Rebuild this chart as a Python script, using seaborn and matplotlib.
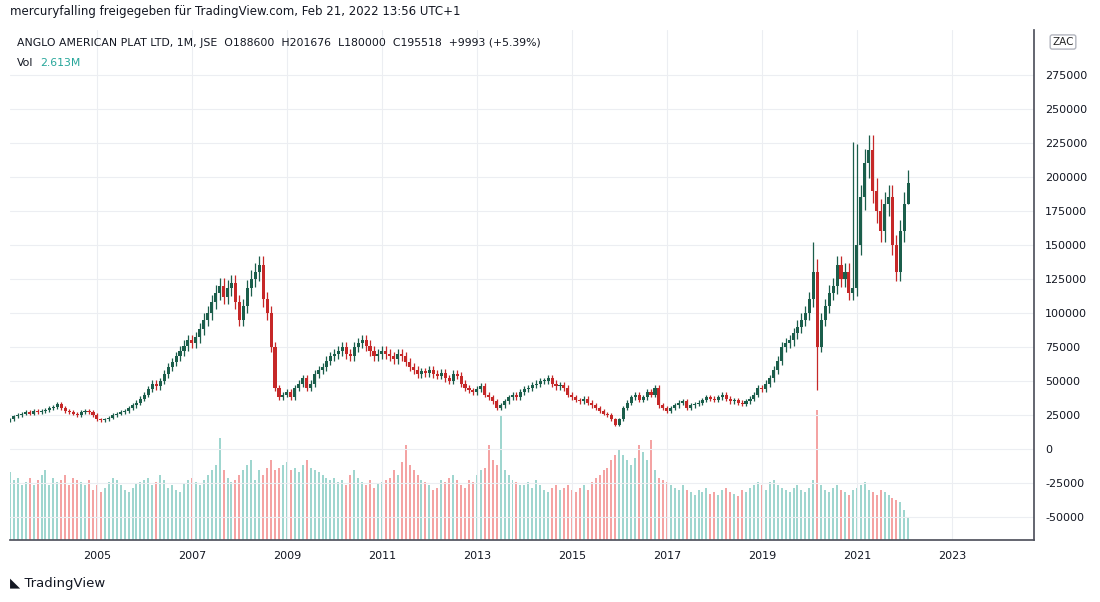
import numpy as np
import matplotlib.pyplot as plt
import seaborn as sns

# monthly closes in thousands ZAC, Mar 2003 .. Feb 2022
close_k = [
    22, 24, 25, 26, 27, 26, 28, 27, 28, 29,
    30, 31, 33, 30, 28, 27, 26, 25, 27, 28, 27, 25,
    22, 21, 22, 23, 25, 26, 27, 28, 30, 32, 34, 37,
    40, 44, 48, 46, 50, 55, 60, 64, 68, 72, 76, 80,
    78, 82, 88, 95, 100, 108, 115, 120, 112, 118, 122, 108,
    95, 105, 118, 125, 130, 135, 110, 100, 75, 45, 38, 40,
    42, 38, 45, 48, 52, 45, 48, 55, 58, 60, 65, 68,
    70, 72, 75, 70, 68, 75, 78, 80, 76, 72, 68, 70,
    72, 70, 68, 66, 70, 68, 64, 60, 58, 55, 57, 56,
    58, 55, 54, 56, 52, 50, 55, 54, 48, 45, 43, 42,
    44, 46, 40, 38, 35, 30, 32, 35, 38, 40, 38, 42,
    44, 45, 47, 48, 50, 50, 52, 48, 46, 47, 45, 40,
    38, 36, 35, 37, 34, 32, 30, 28, 26, 25, 22, 18,
    22, 30, 34, 38, 40, 36, 38, 42, 40, 45, 32, 30,
    28, 30, 32, 34, 35, 30, 32, 33, 34, 36, 38, 37,
    36, 38, 40, 37, 35, 36, 34, 33, 35, 37, 40, 45,
    44, 48, 52, 58, 65, 75, 78, 80, 85, 90, 95, 100,
    110, 130, 75, 95, 105, 115, 120, 135, 125, 130, 115, 118,
    150, 185, 210, 220, 190, 175, 160, 180, 185, 150, 130, 160,
    180, 195.5,
]
# wick extremes that stand out from the body (index: value in thousands)
high_spikes = {203: 152, 204: 140, 213: 226, 214: 224}
low_spikes = {204: 43, 227: 180}

volume = [
    68, 60, 62, 55, 58, 62, 55, 60, 65, 70,
    55, 62, 58, 60, 65, 55, 62, 60, 58, 55, 60, 50,
    55, 48, 52, 58, 62, 60, 55, 50, 48, 52, 56, 58,
    60, 62, 55, 58, 65, 60, 52, 55, 50, 48, 56, 60,
    62, 58, 55, 60, 65, 70, 75, 102, 70, 62, 58, 60,
    65, 70, 75, 80, 60, 70, 65, 72, 80, 70, 72, 75,
    78, 70, 72, 68, 75, 80, 72, 70, 68, 65, 62, 60,
    62, 58, 60, 55, 65, 70, 62, 58, 55, 60, 52, 56,
    58, 60, 62, 70, 65, 78, 95, 75, 70, 65, 60, 58,
    55, 50, 52, 60, 58, 62, 65, 60, 55, 52, 60, 58,
    65, 70, 72, 95, 80, 75, 125, 70, 65, 60, 58, 55,
    55, 58, 52, 60, 55, 50, 48, 52, 55, 50, 52, 55,
    50, 48, 52, 55, 50, 58, 62, 65, 70, 72, 80, 85,
    90, 85, 80, 75, 82, 95, 88, 80, 100, 70, 62, 60,
    58, 55, 52, 50, 55, 50, 48, 45, 50, 48, 52, 46,
    48, 45, 50, 52, 48, 46, 44, 50, 48, 52, 55, 58,
    55, 50, 58, 60, 55, 52, 50, 48, 52, 55, 50, 48,
    52, 60, 130, 55, 50, 48, 52, 55, 50, 48, 45, 50,
    52, 55, 58, 50, 48, 45, 50, 48, 45, 42, 40, 38,
    30, 22,
]
year_ticks = [2005, 2007, 2009, 2011, 2013, 2015, 2017, 2019, 2021, 2023]
price_ticks = list(range(-50000, 275001, 25000))

sns.set_theme(style="white")
plt.rcParams['font.family'] = ['DejaVu Sans']

UP, DOWN = "#1b5e4b", "#c62828"
VUP, VDOWN = "#9fd6cf", "#f4a3a3"

n = len(close_k)
x = 2003 + 2 / 12 + np.arange(n) / 12
c = np.array(close_k) * 1000.0
o = np.concatenate([[21000.0], c[:-1]])
hi = np.maximum(o, c) * 1.05
lo = np.minimum(o, c) * 0.95
for i, v in high_spikes.items():
    hi[i] = v * 1000
for i, v in low_spikes.items():
    lo[i] = v * 1000
up = c >= o

fig = plt.figure(figsize=(11, 6.02), dpi=100)
ax = fig.add_axes([10 / 1100, 62 / 602, 1024 / 1100, 510 / 602])
vax = ax.twinx()
vax.set_ylim(0, 510)
vax.bar(x, volume, width=0.042, color=[VUP if u else VDOWN for u in up], linewidth=0, zorder=1)
vax.axis('off')
ax.set_zorder(vax.get_zorder() + 1)
ax.patch.set_visible(False)

w = 0.065
for xi, oi, ci, h, l, u in zip(x, o, c, hi, lo, up):
    col = UP if u else DOWN
    ax.vlines(xi, l, h, color=col, lw=0.9)
    ax.bar(xi, max(abs(ci - oi), 400), bottom=min(oi, ci), width=w, color=col, linewidth=0)

ax.set_xlim(2003.17, 2024.73)
ax.set_ylim(-66900, 308000)
ax.set_xticks(year_ticks)
ax.set_xticklabels([str(y) for y in year_ticks], fontsize=8, color="#131722")
ax.yaxis.tick_right()
ax.set_yticks(price_ticks)
ax.set_yticklabels([str(t) for t in price_ticks], fontsize=8, color="#131722")
ax.tick_params(length=0, pad=8)
ax.grid(True, color="#eceef2", lw=0.8)
for s in ['top', 'left']:
    ax.spines[s].set_visible(False)
ax.spines['right'].set_color("#50535e")
ax.spines['bottom'].set_color("#50535e")

ax.text(0.007, 0.985, "ANGLO AMERICAN PLAT LTD, 1M, JSE  O188600  H201676  L180000  C195518  +9993 (+5.39%)",
        transform=ax.transAxes, fontsize=7.8, color="#131722", va='top')
ax.text(0.007, 0.945, "Vol", transform=ax.transAxes, fontsize=7.8, color="#131722", va='top')
ax.text(0.029, 0.945, "2.613M", transform=ax.transAxes, fontsize=7.8, color="#26a69a", va='top')
fig.text(1063 / 1100, 1 - 42 / 602, "ZAC", fontsize=7.5, ha='center', va='center',
         bbox=dict(facecolor='white', edgecolor='#b2b5be', boxstyle='round,pad=0.2'))
fig.text(10 / 1100, 1 - 12 / 602, "mercuryfalling freigegeben für TradingView.com, Feb 21, 2022 13:56 UTC+1",
         fontsize=8.5, color="#131722", va='center')
fig.text(10 / 1100, 1 - 584 / 602, "◣ TradingView", fontsize=9.5, color="#131722", va='center')

fig.savefig("out.png", dpi=100)
